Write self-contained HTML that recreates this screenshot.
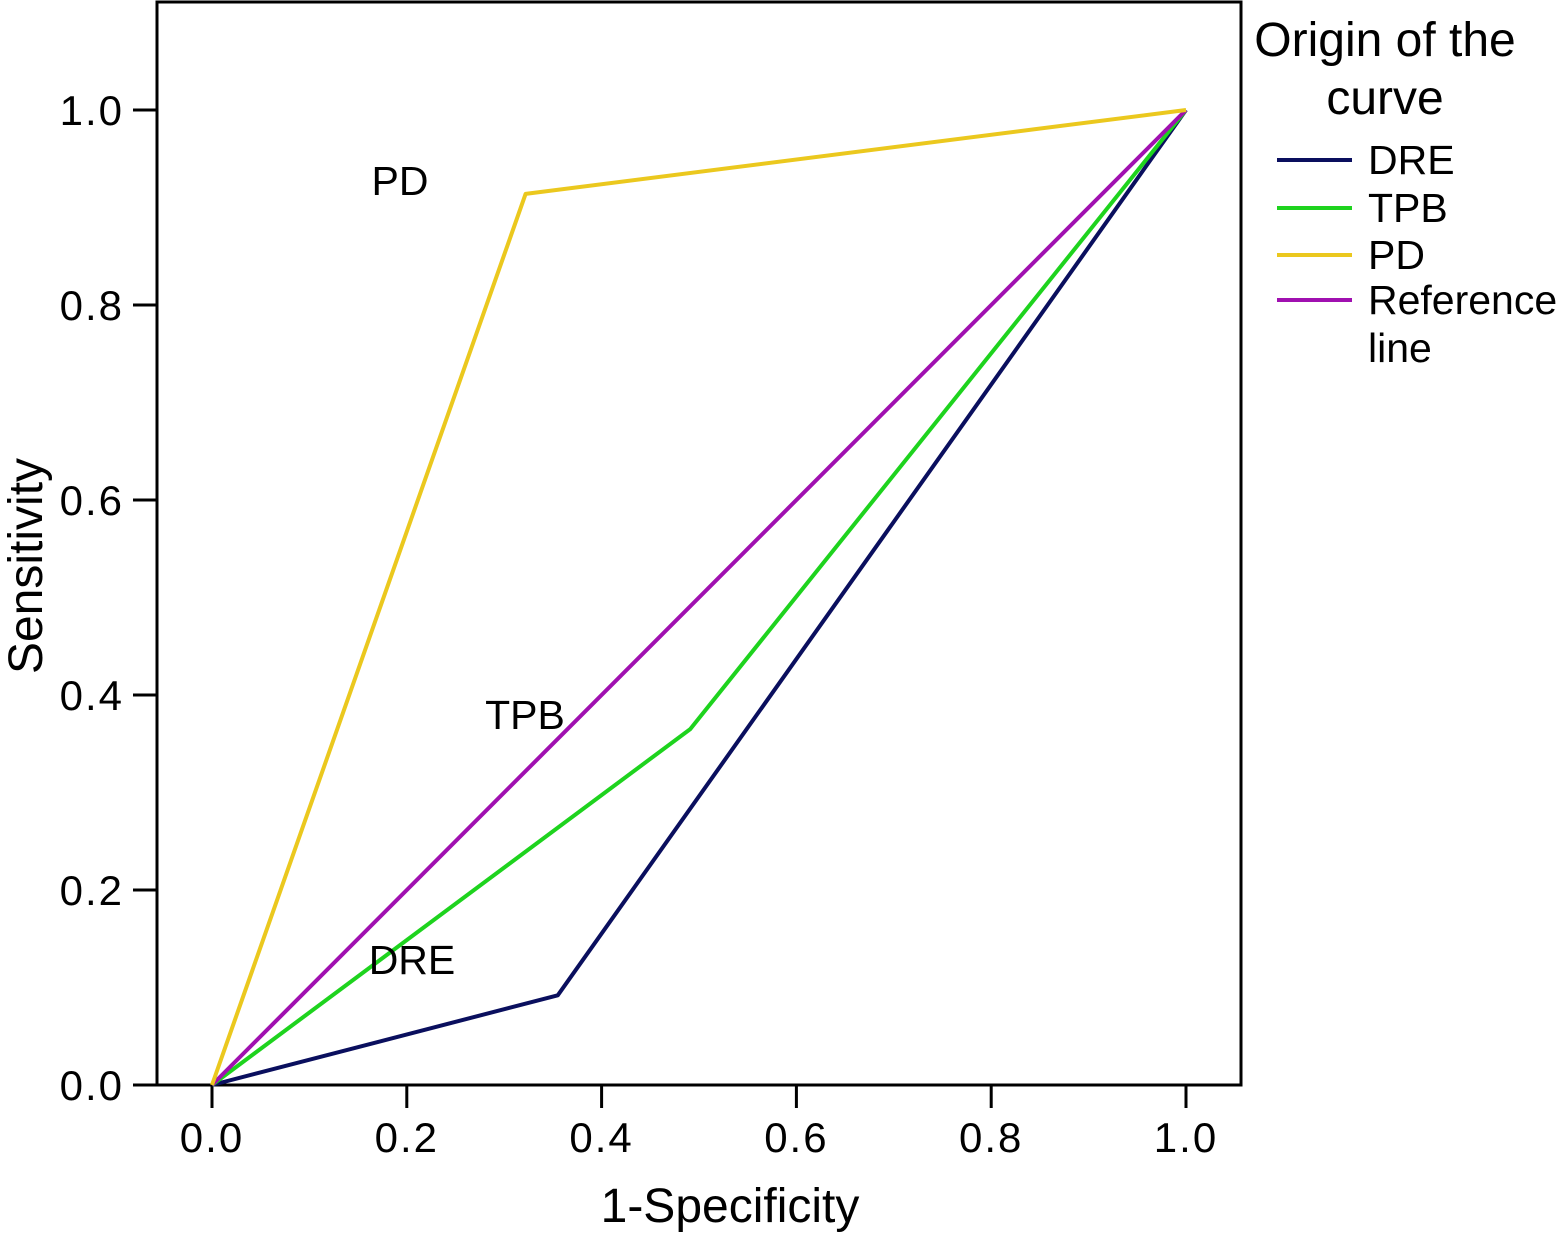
<!DOCTYPE html>
<html><head><meta charset="utf-8"><style>
html,body{margin:0;padding:0;background:#fff;}
svg{display:block;font-family:"Liberation Sans",Arial,sans-serif;}
</style></head><body>
<svg id="chart" width="1560" height="1244" viewBox="0 0 1560 1244">
<rect x="157" y="2" width="1084" height="1083" fill="#fff" stroke="#000" stroke-width="3"/>
<g id="axes"></g>
<g id="series"></g>
<text x="400" y="195" font-size="41" text-anchor="middle">PD</text>
<text x="525" y="729" font-size="41" text-anchor="middle">TPB</text>
<text x="412" y="974" font-size="41" text-anchor="middle">DRE</text>
<text x="730" y="1222" font-size="48" text-anchor="middle">1-Specificity</text>
<text transform="translate(42,566) rotate(-90)" font-size="48" text-anchor="middle">Sensitivity</text>
<g>
<text x="1385" y="56" font-size="48" text-anchor="middle">Origin of the</text>
<text x="1385" y="114" font-size="48" text-anchor="middle">curve</text>
<g id="legend"></g>
<text x="1368" y="362" font-size="41">line</text>
</g>
</svg>
<script>
const xTicks = [0.0, 0.2, 0.4, 0.6, 0.8, 1.0];
const yTicks = [0.0, 0.2, 0.4, 0.6, 0.8, 1.0];
const seriesNames = ["DRE", "TPB", "PD", "Reference line"];
const seriesColors = ["#0a0f5e", "#1ed31e", "#ebc81e", "#a010b0"];
const dreX = [0, 0.355, 1]; const dreY = [0, 0.092, 1];
const tpbX = [0, 0.491, 1]; const tpbY = [0, 0.365, 1];
const pdX = [0, 0.322, 1]; const pdY = [0, 0.914, 1];
const refX = [0, 1]; const refY = [0, 1];

const NS = "http://www.w3.org/2000/svg";
const sx = v => 212 + v * 974;
const sy = v => 1085 - v * 975;
const axes = document.getElementById('axes');
function mk(tag, attrs, parent) {
  const e = document.createElementNS(NS, tag);
  for (const k in attrs) e.setAttribute(k, attrs[k]);
  parent.appendChild(e); return e;
}
xTicks.forEach(t => {
  const l = mk('line', {x1: sx(t), x2: sx(t), y1: 1085, y2: 1108, stroke: '#000', 'stroke-width': 3}, axes);
  
  
  const tx = mk('text', {x: sx(t), y: 1152, 'font-size': 42, 'text-anchor': 'middle', 'letter-spacing': 2}, axes);
  tx.textContent = t.toFixed(1);
  
  
});
mk('line', {x1: 133, x2: 157, y1: 1085, y2: 1085, stroke: '#000', 'stroke-width': 3}, axes);
yTicks.forEach(t => {
  const l = mk('line', {x1: 133, x2: 157, y1: sy(t), y2: sy(t), stroke: '#000', 'stroke-width': 3}, axes);
  
  
  const tx = mk('text', {x: 124, y: sy(t) + 15, 'font-size': 42, 'text-anchor': 'end', 'letter-spacing': 2}, axes);
  tx.textContent = t.toFixed(1);
  
  
});
const sg = document.getElementById('series');
const data = [[dreX, dreY], [tpbX, tpbY], [pdX, pdY], [refX, refY]];
const order = [0, 1, 3, 2];
order.forEach(i => {
  const [xs, ys] = data[i];
  const p = mk('polyline', {points: xs.map((x, j) => sx(x) + ',' + sy(ys[j])).join(' '), fill: 'none', stroke: seriesColors[i], 'stroke-width': 4, 'stroke-linejoin': 'round'}, sg);
  
  
});
const lg = document.getElementById('legend');
const legendY = [160, 208, 255, 300];
seriesNames.forEach((n, i) => {
  const l = mk('line', {x1: 1277, x2: 1352, y1: legendY[i], y2: legendY[i], stroke: seriesColors[i], 'stroke-width': 4}, lg);
  
  
  const t = mk('text', {x: 1368, y: legendY[i] + 14, 'font-size': 41}, lg);
  t.textContent = n === 'Reference line' ? 'Reference' : n;
  
  
});
</script>
</body></html>
